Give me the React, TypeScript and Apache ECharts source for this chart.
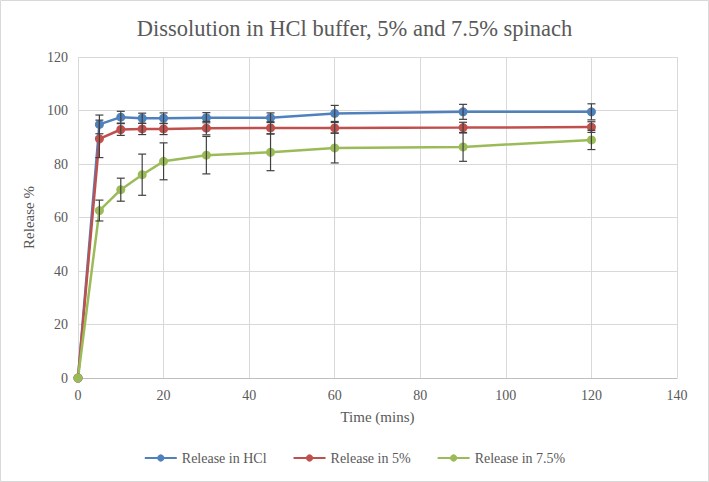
import React, { useEffect, useRef } from "react";
import * as echarts from "echarts";

// Sampling times (minutes)
const timePoints = [0, 5, 10, 15, 20, 30, 45, 60, 90, 120];

// Mean release (%) per medium
const releaseHCl = [0, 94.8, 97.5, 97.1, 97.1, 97.3, 97.3, 98.9, 99.5, 99.5];
const release5 = [0, 89.4, 92.9, 93.1, 93.1, 93.4, 93.5, 93.5, 93.6, 93.8];
const release75 = [0, 62.6, 70.4, 76.0, 81.0, 83.3, 84.4, 86.0, 86.4, 89.0];

// Standard deviations for the error bars
const errHCl = [0, 3.5, 2.2, 1.9, 2.0, 1.9, 1.8, 3.0, 2.8, 3.0];
const err5 = [0, 7.0, 2.2, 2.1, 2.1, 2.5, 2.3, 2.0, 2.0, 2.0];
const err75 = [0, 3.9, 4.3, 7.7, 6.9, 7.0, 6.9, 5.6, 5.4, 3.6];

const seriesNames = ["Release in HCl", "Release in 5%", "Release in 7.5%"];
const seriesColors = ["#4F81BD", "#C0504D", "#9BBB59"];

const FONT = "Liberation Serif";
const TEXT_COLOR = "#595959";

function lineSeries(name: string, values: number[], color: string) {
  return {
    type: "line",
    name,
    data: timePoints.map((t, i) => [t, values[i]]),
    symbol: "circle",
    symbolSize: 9,
    lineStyle: { color, width: 2.5 },
    itemStyle: { color },
    z: 3,
  };
}

function errorBars(name: string, values: number[], errors: number[]) {
  const data = timePoints
    .map((t, i) => [t, values[i] - errors[i], values[i] + errors[i]])
    .filter((_, i) => errors[i] > 0);
  return {
    type: "custom",
    name: name + " SD",
    silent: true,
    z: 4,
    encode: { x: 0, y: [1, 2] },
    data,
    renderItem: (_params: any, api: any) => {
      const x = api.value(0);
      const top = api.coord([x, api.value(2)]);
      const bot = api.coord([x, api.value(1)]);
      const half = 4;
      const style = { stroke: "#404040", lineWidth: 1.2 };
      return {
        type: "group",
        children: [
          { type: "line", shape: { x1: top[0], y1: top[1], x2: bot[0], y2: bot[1] }, style },
          { type: "line", shape: { x1: top[0] - half, y1: top[1], x2: top[0] + half, y2: top[1] }, style },
          { type: "line", shape: { x1: bot[0] - half, y1: bot[1], x2: bot[0] + half, y2: bot[1] }, style },
        ],
      };
    },
  };
}

export default function App() {
  const ref = useRef<HTMLDivElement>(null);

  useEffect(() => {
    if (!ref.current) return;
    const chart = echarts.init(ref.current, undefined, { renderer: "svg" });
    const option = {
      animation: false,
      backgroundColor: "#ffffff",
      textStyle: { fontFamily: FONT },
      title: {
        text: "Dissolution in HCl buffer, 5% and 7.5% spinach",
        left: "center",
        top: 12,
        textStyle: { fontFamily: FONT, fontSize: 22.5, fontWeight: "normal", color: TEXT_COLOR },
      },
      graphic: [
        {
          type: "rect",
          shape: { x: 0.5, y: 0.5, width: 708, height: 481 },
          style: { fill: "none", stroke: "#d9d9d9", lineWidth: 1 },
          silent: true,
        },
      ],
      grid: { left: 78, top: 57, width: 599, height: 321 },
      legend: {
        data: seriesNames,
        bottom: 12,
        left: "center",
        itemWidth: 32,
        itemHeight: 9,
        itemGap: 26,
        textStyle: { fontFamily: FONT, fontSize: 14, color: TEXT_COLOR },
      },
      xAxis: {
        type: "value",
        min: 0,
        max: 140,
        interval: 20,
        name: "Time (mins)",
        nameLocation: "middle",
        nameGap: 31,
        nameTextStyle: { fontFamily: FONT, fontSize: 15, color: TEXT_COLOR },
        axisLine: { lineStyle: { color: "#bfbfbf", width: 1 } },
        axisTick: { show: false },
        axisLabel: { fontFamily: FONT, fontSize: 14, color: TEXT_COLOR, margin: 10 },
        splitLine: { show: true, lineStyle: { color: "#d9d9d9", width: 1 } },
      },
      yAxis: {
        type: "value",
        min: 0,
        max: 120,
        interval: 20,
        name: "Release %",
        nameLocation: "middle",
        nameGap: 40,
        nameTextStyle: { fontFamily: FONT, fontSize: 15, color: TEXT_COLOR },
        axisLine: { show: false },
        axisTick: { show: false },
        axisLabel: { fontFamily: FONT, fontSize: 14, color: TEXT_COLOR, margin: 10 },
        splitLine: { show: true, lineStyle: { color: "#d9d9d9", width: 1 } },
      },
      series: [
        lineSeries(seriesNames[0], releaseHCl, seriesColors[0]),
        lineSeries(seriesNames[1], release5, seriesColors[1]),
        lineSeries(seriesNames[2], release75, seriesColors[2]),
        errorBars(seriesNames[0], releaseHCl, errHCl),
        errorBars(seriesNames[1], release5, err5),
        errorBars(seriesNames[2], release75, err75),
      ],
    };
    chart.setOption(option as any);
    return () => chart.dispose();
  }, []);

  return (
    <div
      ref={ref}
      style={{ position: "absolute", left: 0, top: 0, width: 709, height: 482 }}
    />
  );
}
